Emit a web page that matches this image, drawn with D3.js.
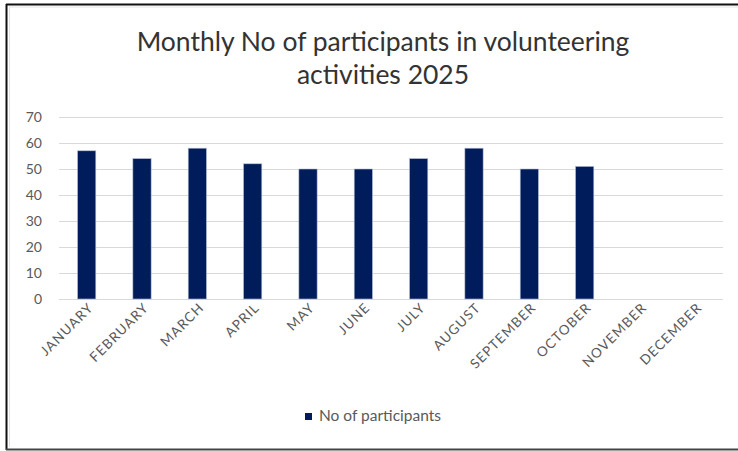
<!DOCTYPE html>
<html>
<head>
<meta charset="utf-8">
<script src="https://cdn.jsdelivr.net/npm/d3@7"></script>
<style>
    body { margin: 0; background: #fff; }
    text { font-family: Lato, 'Open Sans', sans-serif; }
    .axis text { fill: #595959; }
    .axis path, .axis line { display: none; }
    .grid line { stroke: #d9d9d9; stroke-width: 1; }
</style>
</head>
<body>
<svg id="chart"></svg>
<script>
// chart data
const months = ['JANUARY', 'FEBRUARY', 'MARCH', 'APRIL', 'MAY', 'JUNE', 'JULY',
    'AUGUST', 'SEPTEMBER', 'OCTOBER', 'NOVEMBER', 'DECEMBER'];
const participants = [57, 54, 58, 52, 50, 50, 54, 58, 50, 51, null, null];
const yTicks = [0, 10, 20, 30, 40, 50, 60, 70];
const seriesName = 'No of participants';
const titleLines = ['Monthly No of participants in volunteering', 'activities 2025'];

class BarChart {
    constructor(_config) {
        this.config = {
            parentElement: _config.parentElement,
            containerWidth: 738,
            containerHeight: 451,
            margin: { top: 117, right: 15, bottom: 152, left: 59 }
        }
        this.initVis();
    }

    initVis() {
        let vis = this;

        vis.width = vis.config.containerWidth - vis.config.margin.left - vis.config.margin.right;
        vis.height = vis.config.containerHeight - vis.config.margin.top - vis.config.margin.bottom;

        vis.svg = d3.select(vis.config.parentElement)
            .attr('width', vis.config.containerWidth)
            .attr('height', vis.config.containerHeight);

        // frame around the chart
        vis.svg.append('line').attr('x1', 6).attr('x2', 738).attr('y1', 4.5).attr('y2', 4.5)
            .attr('stroke', '#111').attr('stroke-width', 2);
        vis.svg.append('line').attr('x1', 6.5).attr('x2', 6.5).attr('y1', 4).attr('y2', 450)
            .attr('stroke', '#111').attr('stroke-width', 2);
        vis.svg.append('line').attr('x1', 6).attr('x2', 738).attr('y1', 449.5).attr('y2', 449.5)
            .attr('stroke', '#444').attr('stroke-width', 2);
        vis.svg.append('line').attr('x1', 9).attr('x2', 738).attr('y1', 7).attr('y2', 7)
            .attr('stroke', '#e3e3e3').attr('stroke-width', 1);
        vis.svg.append('line').attr('x1', 9.5).attr('x2', 9.5).attr('y1', 7).attr('y2', 447)
            .attr('stroke', '#e3e3e3').attr('stroke-width', 1);

        vis.chart = vis.svg.append('g')
            .attr('transform', `translate(${vis.config.margin.left},${vis.config.margin.top})`);

        vis.xScale = d3.scaleBand()
            .domain(months)
            .range([0, vis.width])
            .paddingInner(0.67)
            .paddingOuter(0.335);

        vis.yScale = d3.scaleLinear()
            .domain([0, 70])
            .range([vis.height, 0]);

        // title
        vis.svg.append('text')
            .attr('x', 383)
            .attr('y', 51)
            .attr('text-anchor', 'middle')
            .attr('font-size', 26.5)
            .attr('fill', '#333')
            .selectAll('tspan')
            .data(titleLines)
            .join('tspan')
            .attr('x', 383)
            .attr('dy', (d, i) => i === 0 ? 0 : 33)
            .text(d => d);

        vis.updateVis();
    }

    updateVis() {
        let vis = this;

        vis.grid = vis.chart.append('g')
            .attr('class', 'grid')
            .selectAll('line')
            .data(yTicks)
            .join('line')
            .attr('x1', 0)
            .attr('x2', vis.width)
            .attr('y1', d => Math.round(vis.yScale(d)) + 0.5)
            .attr('y2', d => Math.round(vis.yScale(d)) + 0.5);

        vis.yAxis = d3.axisLeft(vis.yScale).tickValues(yTicks).tickSize(0).tickPadding(17);
        vis.xAxis = d3.axisBottom(vis.xScale).tickSize(0);

        vis.renderVis();
    }

    renderVis() {
        let vis = this;

        vis.chart.selectAll('.bar')
            .data(months.map((m, i) => ({ month: m, value: participants[i] })).filter(d => d.value != null))
            .join('rect')
            .attr('class', 'bar')
            .attr('x', d => vis.xScale(d.month))
            .attr('width', vis.xScale.bandwidth())
            .attr('y', d => vis.yScale(d.value))
            .attr('height', d => vis.height - vis.yScale(d.value))
            .attr('fill', '#001c5a')
            .attr('stroke', '#b4bdd4')
            .attr('stroke-width', 0.6);

        vis.chart.append('g')
            .attr('class', 'axis y-axis')
            .call(vis.yAxis)
            .selectAll('text')
            .attr('font-size', 14);

        // month labels are slanted at 45 degrees
        vis.chart.append('g')
            .attr('class', 'axis x-axis')
            .attr('transform', `translate(0,${vis.height})`)
            .call(vis.xAxis)
            .selectAll('text')
            .attr('font-size', 13.5)
            .attr('letter-spacing', 1.1)
            .attr('text-anchor', 'end')
            .attr('dy', '0.35em')
            .attr('transform', 'translate(2,4) rotate(-45)');

        // legend
        vis.legend = vis.svg.append('g')
            .attr('transform', 'translate(305, 416)');

        vis.legend.append('rect')
            .attr('x', 0)
            .attr('y', -3)
            .attr('width', 7)
            .attr('height', 7)
            .attr('fill', '#001c5a');

        vis.legend.append('text')
            .attr('x', 14)
            .attr('y', 0)
            .attr('dy', '0.35em')
            .attr('font-size', 15.5)
            .attr('fill', '#595959')
            .text(seriesName);
    }
}

new BarChart({ parentElement: '#chart' });
</script>
</body>
</html>
